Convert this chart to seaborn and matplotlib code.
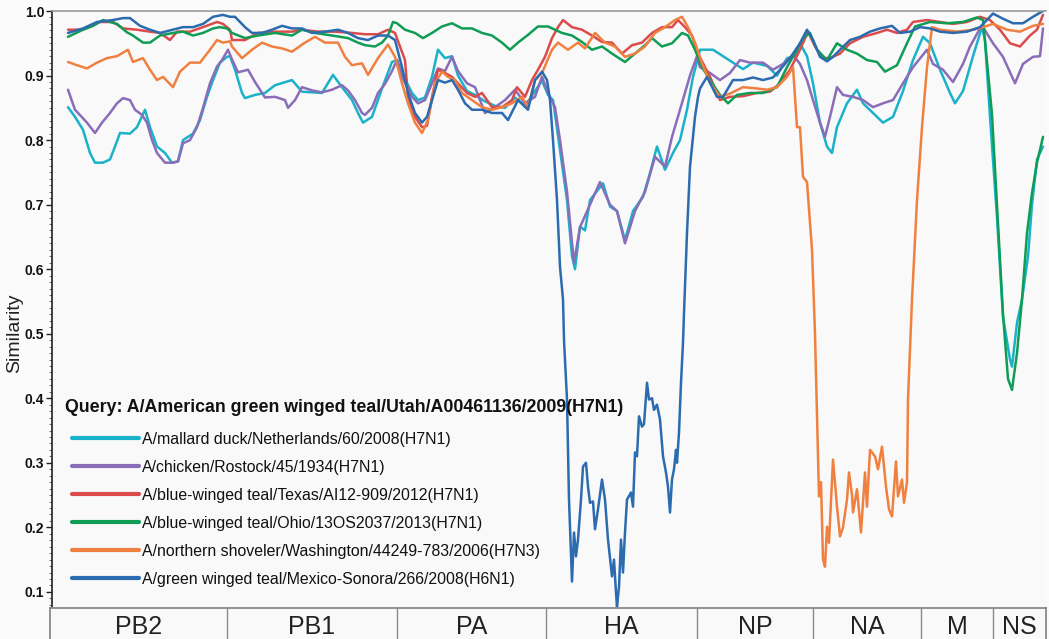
import matplotlib
matplotlib.use("Agg")
import matplotlib.pyplot as plt
import numpy as np
import pandas as pd
import seaborn as sns

# ---------------------------------------------------------------------------
# Similarity of each reference strain to the query, along the concatenated
# genome (alignment position, segments joined end to end).
# ---------------------------------------------------------------------------
segments = ["PB2", "PB1", "PA", "HA", "NP", "NA", "M", "NS"]
segment_bounds = [0, 1770, 3470, 4960, 6470, 7630, 8710, 9430, 9960]

query_label = "Query: A/American green winged teal/Utah/A00461136/2009(H7N1)"

strains = [
    "A/mallard duck/Netherlands/60/2008(H7N1)",
    "A/chicken/Rostock/45/1934(H7N1)",
    "A/blue-winged teal/Texas/AI12-909/2012(H7N1)",
    "A/blue-winged teal/Ohio/13OS2037/2013(H7N1)",
    "A/northern shoveler/Washington/44249-783/2006(H7N3)",
    "A/green winged teal/Mexico-Sonora/266/2008(H6N1)",
]
colors = ["#19b2c9", "#8a6db8", "#dc4b4b", "#0f9d55", "#f08040", "#2c6bb0"]

mallard_pos = [180, 250, 330, 400, 450, 530, 600, 650, 700, 800, 870, 950, 1000, 1070, 1150,
               1220, 1280, 1330, 1430, 1500, 1570, 1630, 1700, 1770, 1800, 1850, 1920, 1950,
               2050, 2150, 2250, 2420, 2520, 2620, 2720, 2830, 2920, 3020, 3080, 3130, 3220,
               3320, 3420, 3470, 3520, 3620, 3680, 3750, 3820, 3880, 3950, 4020, 4080, 4170,
               4250, 4350, 4450, 4550, 4650, 4750, 4850, 4920, 4980, 5030, 5100, 5170, 5220,
               5250, 5300, 5350, 5400, 5530, 5600, 5670, 5750, 5830, 5930, 6000, 6070, 6150,
               6230, 6300, 6370, 6430, 6480, 6500, 6570, 6630, 6730, 6830, 6930, 7030, 7170,
               7270, 7370, 7450, 7500, 7570, 7630, 7700, 7770, 7820, 7870, 7970, 8070, 8130,
               8230, 8330, 8430, 8530, 8630, 8730, 8800, 8900, 9000, 9050, 9130, 9230, 9320,
               9350, 9400, 9470, 9530, 9600, 9620, 9670, 9720, 9780, 9820, 9870, 9930]
mallard_sim = [.851, .836, .816, .780, .765, .765, .770, .790, .811, .810, .820, .847, .820, .790,
               .780, .765, .767, .800, .810, .831, .867, .893, .920, .929, .930, .909, .873, .865,
               .870, .873, .885, .893, .875, .874, .873, .901, .882, .862, .842, .827, .836, .880,
               .921, .924, .904, .873, .862, .866, .898, .940, .927, .930, .900, .876, .870, .860,
               .853, .850, .866, .853, .876, .892, .870, .862, .785, .707, .620, .600, .666, .660,
               .707, .733, .697, .690, .645, .690, .712, .749, .790, .754, .780, .800, .847, .898,
               .927, .940, .940, .940, .930, .920, .910, .920, .915, .900, .927, .930, .950, .930,
               .888, .827, .790, .780, .820, .857, .878, .857, .842, .827, .836, .876, .924, .960,
               .950, .909, .873, .857, .876, .930, .975, .955, .836, .680, .526, .460, .449, .517,
               .553, .620, .700, .770, .790]

chicken_pos = [180, 250, 370, 450, 520, 600, 670, 730, 800, 850, 920, 970, 1020, 1070, 1150,
               1230, 1280, 1330, 1400, 1470, 1530, 1600, 1670, 1720, 1780, 1820, 1880, 1980,
               2050, 2150, 2250, 2350, 2380, 2450, 2520, 2620, 2720, 2820, 2920, 2980, 3050,
               3120, 3150, 3220, 3280, 3350, 3420, 3470, 3520, 3620, 3680, 3750, 3820, 3880,
               3950, 4020, 4080, 4170, 4250, 4350, 4450, 4550, 4650, 4750, 4850, 4920, 4980,
               5050, 5100, 5170, 5240, 5300, 5400, 5500, 5600, 5670, 5750, 5850, 5950, 6050,
               6150, 6220, 6300, 6400, 6470, 6500, 6600, 6700, 6800, 6900, 7000, 7130, 7230,
               7330, 7430, 7500, 7570, 7630, 7700, 7750, 7800, 7870, 7930, 8030, 8130, 8230,
               8330, 8430, 8530, 8630, 8770, 8830, 8930, 9030, 9130, 9200, 9300, 9330, 9430,
               9530, 9650, 9730, 9830, 9900, 9930]
chicken_sim = [.878, .847, .827, .811, .827, .842, .857, .865, .862, .847, .839, .827, .800, .780,
               .765, .765, .767, .795, .800, .820, .850, .888, .914, .924, .940, .925, .905, .909,
               .890, .866, .867, .862, .850, .862, .882, .877, .874, .878, .885, .877, .862, .842,
               .839, .850, .873, .887, .907, .924, .898, .867, .857, .862, .888, .911, .907, .929,
               .907, .888, .882, .842, .851, .862, .878, .857, .867, .898, .873, .851, .800, .720,
               .610, .665, .700, .735, .700, .690, .640, .690, .720, .774, .759, .805, .847, .900,
               .930, .913, .904, .893, .904, .924, .920, .920, .909, .918, .932, .918, .893, .862,
               .827, .805, .836, .882, .870, .867, .862, .851, .857, .862, .888, .913, .940, .918,
               .909, .890, .918, .945, .973, .975, .950, .929, .888, .918, .929, .930, .973]

texas_pos = [180, 330, 500, 630, 730, 870, 1000, 1100, 1200, 1270, 1400, 1530, 1670, 1730, 1800,
             1820, 1950, 2080, 2250, 2420, 2520, 2680, 2850, 3020, 3150, 3280, 3380, 3450, 3550,
             3580, 3650, 3720, 3770, 3820, 3880, 3950, 4020, 4080, 4170, 4250, 4320, 4420, 4520,
             4620, 4670, 4750, 4820, 4880, 4950, 5020, 5080, 5130, 5220, 5320, 5420, 5520, 5620,
             5720, 5820, 5920, 6020, 6120, 6220, 6280, 6350, 6420, 6480, 6550, 6600, 6700, 6800,
             6930, 7070, 7200, 7300, 7400, 7500, 7580, 7650, 7730, 7800, 7900, 8000, 8130, 8270,
             8370, 8470, 8570, 8630, 8770, 8900, 9030, 9170, 9300, 9400, 9500, 9600, 9700, 9800,
             9870, 9930]
texas_sim = [.971, .971, .983, .983, .973, .971, .968, .966, .955, .968, .968, .975, .983, .980,
             .971, .955, .955, .966, .968, .968, .971, .968, .968, .966, .964, .964, .971, .966,
             .924, .867, .836, .820, .822, .867, .909, .904, .898, .888, .873, .867, .873, .851,
             .851, .862, .882, .867, .893, .909, .929, .958, .975, .986, .975, .971, .962, .952,
             .951, .934, .947, .951, .966, .975, .975, .986, .975, .962, .934, .913, .898, .862,
             .867, .868, .873, .875, .888, .909, .940, .968, .945, .927, .927, .934, .950, .960,
             .966, .971, .966, .971, .983, .986, .983, .980, .983, .991, .986, .971, .950, .945,
             .962, .971, .994]

ohio_pos = [180, 330, 430, 530, 670, 770, 830, 930, 1000, 1100, 1230, 1330, 1430, 1530, 1630,
            1700, 1770, 1820, 1950, 2080, 2250, 2420, 2520, 2650, 2820, 2980, 3080, 3150, 3250,
            3320, 3380, 3430, 3470, 3550, 3650, 3730, 3820, 3920, 4020, 4120, 4220, 4320, 4420,
            4520, 4600, 4680, 4780, 4880, 4980, 5050, 5120, 5220, 5320, 5420, 5520, 5620, 5750,
            5850, 5950, 6020, 6120, 6220, 6320, 6380, 6450, 6520, 6600, 6700, 6780, 6870, 7000,
            7130, 7270, 7370, 7470, 7530, 7600, 7670, 7770, 7870, 7970, 8070, 8170, 8270, 8350,
            8470, 8570, 8650, 8800, 8970, 9130, 9270, 9330, 9420, 9530, 9580, 9620, 9670, 9720,
            9770, 9820, 9870, 9930]
ohio_sim = [.960, .971, .977, .986, .980, .967, .962, .951, .951, .962, .966, .968, .962, .966,
            .973, .975, .973, .966, .958, .962, .966, .962, .971, .966, .962, .958, .951, .947,
            .945, .951, .962, .983, .981, .971, .966, .958, .966, .976, .981, .973, .973, .966,
            .962, .951, .940, .951, .963, .976, .976, .971, .966, .962, .952, .940, .945, .934,
            .921, .934, .947, .958, .945, .950, .966, .962, .940, .913, .893, .870, .857, .870,
            .873, .873, .882, .913, .940, .958, .966, .940, .924, .950, .940, .934, .924, .921,
            .906, .916, .950, .976, .983, .981, .983, .990, .986, .840, .530, .430, .413, .470,
            .553, .656, .718, .765, .805]

shoveler_pos = [180, 270, 370, 470, 570, 670, 780, 830, 930, 1000, 1070, 1130, 1230, 1300, 1400,
                1500, 1600, 1670, 1730, 1800, 1820, 1920, 2020, 2120, 2220, 2320, 2420, 2550,
                2650, 2750, 2880, 2950, 3020, 3120, 3180, 3280, 3380, 3450, 3520, 3580, 3650,
                3720, 3780, 3850, 3920, 3980, 4050, 4120, 4220, 4320, 4420, 4520, 4620, 4720,
                4780, 4850, 4920, 5020, 5080, 5180, 5280, 5350, 5450, 5550, 5650, 5750, 5850,
                5950, 6050, 6150, 6250, 6320, 6380, 6450, 6520, 6600, 6700, 6800, 6930, 7070,
                7170, 7270, 7370, 7430, 7470, 7500, 7530, 7570, 7620, 7650, 7670, 7690, 7710,
                7730, 7750, 7770, 7790, 7830, 7870, 7900, 7930, 7970, 7990, 8020, 8030, 8070,
                8110, 8150, 8170, 8200, 8250, 8280, 8320, 8360, 8390, 8420, 8460, 8480, 8520,
                8540, 8570, 8580, 8620, 8670, 8720, 8770, 8820, 8900, 9070, 9230, 9330, 9430,
                9570, 9700, 9830, 9930]
shoveler_sim = [.921, .916, .911, .920, .927, .930, .940, .921, .927, .909, .893, .898, .882, .906,
                .920, .920, .940, .955, .951, .953, .945, .927, .940, .951, .945, .942, .937, .951,
                .960, .951, .951, .929, .916, .919, .901, .927, .948, .929, .888, .857, .827, .811,
                .831, .888, .906, .898, .893, .873, .862, .851, .847, .851, .857, .867, .851, .893,
                .904, .940, .951, .940, .951, .942, .966, .951, .945, .929, .934, .945, .966, .975,
                .986, .991, .975, .951, .919, .889, .867, .872, .882, .880, .878, .882, .898, .913,
                .820, .820, .743, .735, .630, .500, .372, .248, .270, .150, .139, .201, .176, .305,
                .232, .186, .200, .243, .285, .250, .223, .259, .192, .285, .232, .320, .310, .290,
                .325, .263, .228, .217, .302, .248, .274, .238, .270, .398, .553, .707, .820, .913,
                .975, .971, .968, .971, .975, .980, .971, .968, .977, .980]

sonora_pos = [180, 330, 470, 630, 730, 800, 900, 1000, 1100, 1230, 1330, 1430, 1530, 1630, 1730,
              1800, 1850, 1950, 2020, 2120, 2220, 2320, 2420, 2520, 2620, 2750, 2880, 2980, 3080,
              3180, 3280, 3380, 3450, 3520, 3580, 3650, 3720, 3770, 3820, 3880, 3950, 4020, 4080,
              4150, 4220, 4320, 4420, 4520, 4580, 4680, 4780, 4850, 4920, 4970, 5000, 5030, 5070,
              5100, 5130, 5140, 5170, 5190, 5220, 5240, 5260, 5280, 5310, 5330, 5360, 5380, 5400,
              5430, 5450, 5480, 5520, 5550, 5580, 5620, 5640, 5660, 5670, 5690, 5710, 5730, 5750,
              5770, 5810, 5830, 5850, 5870, 5890, 5920, 5940, 5970, 5990, 6020, 6040, 6070, 6100,
              6130, 6160, 6180, 6200, 6220, 6240, 6260, 6270, 6290, 6310, 6330, 6340, 6370, 6400,
              6450, 6480, 6500, 6570, 6670, 6730, 6830, 6930, 7030, 7130, 7230, 7300, 7400, 7500,
              7570, 7630, 7700, 7770, 7830, 7900, 8000, 8100, 8200, 8300, 8420, 8500, 8600, 8700,
              8800, 8900, 9030, 9170, 9300, 9430, 9530, 9630, 9730, 9830, 9930]
sonora_sim = [.966, .973, .983, .986, .989, .989, .977, .971, .966, .971, .975, .975, .980, .991,
              .994, .991, .991, .975, .966, .966, .971, .977, .973, .973, .966, .968, .971, .966,
              .958, .955, .962, .962, .955, .913, .873, .842, .827, .836, .862, .893, .889, .893,
              .878, .857, .847, .847, .842, .842, .831, .862, .847, .893, .906, .893, .862, .800,
              .707, .604, .553, .490, .398, .243, .116, .192, .155, .181, .243, .294, .300, .263,
              .238, .240, .197, .228, .274, .243, .181, .124, .150, .099, .077, .108, .181, .130,
              .192, .243, .254, .232, .316, .310, .372, .356, .360, .424, .398, .400, .382, .390,
              .367, .310, .285, .263, .223, .274, .290, .320, .300, .347, .424, .486, .532, .656,
              .759, .836, .867, .880, .898, .867, .867, .893, .893, .897, .893, .897, .909, .927,
              .950, .971, .955, .929, .922, .929, .940, .955, .960, .968, .973, .977, .966, .968,
              .975, .973, .968, .966, .968, .975, .996, .988, .981, .981, .991, 1.000]

series_pos = [mallard_pos, chicken_pos, texas_pos, ohio_pos, shoveler_pos, sonora_pos]
series_sim = [mallard_sim, chicken_sim, texas_sim, ohio_sim, shoveler_sim, sonora_sim]

frames = []
for name, pos, sim in zip(strains, series_pos, series_sim):
    frames.append(pd.DataFrame({"position": pos, "similarity": sim, "strain": name}))
data = pd.concat(frames, ignore_index=True)

# ---------------------------------------------------------------------------
sns.set_theme(style="white")
plt.rcParams["font.family"] = ["Liberation Sans", "DejaVu Sans"]

W, H = 1049, 639
fig = plt.figure(figsize=(W / 100, H / 100), dpi=100, facecolor="#fbfbfb")

ax = fig.add_axes([52 / W, 31 / H, 994 / W, 597 / H])
ax.set_facecolor("#f9f9f9")

sns.lineplot(data=data, x="position", y="similarity", hue="strain",
             hue_order=strains, palette=colors, estimator=None, sort=True,
             linewidth=1.8, legend=False, ax=ax)

ax.set_xlim(20, segment_bounds[-1])
ax.set_ylim(0.075, 1.0)
ax.set_xticks([])
ax.set_xlabel("")
ax.set_ylabel("")

ax.set_yticks(np.round(np.arange(0.1, 1.01, 0.1), 1))
ax.set_yticks(np.arange(0.08, 1.0, 0.01), minor=True)
ax.set_yticklabels([f"{v:.1f}" for v in np.arange(0.1, 1.01, 0.1)],
                   fontsize=10, fontweight="bold", color="#111111")
ax.tick_params(axis="y", which="major", direction="out", length=4, width=1,
               color="#222222", pad=1.5, left=True)
ax.tick_params(axis="y", which="minor", direction="out", length=2, width=0.6,
               color="#555555", left=True)

for side in ["right", "bottom"]:
    ax.spines[side].set_visible(False)
ax.spines["left"].set_color("#222222")
ax.spines["left"].set_linewidth(1.2)
ax.spines["top"].set_color("#9a9a9a")
ax.spines["top"].set_linewidth(1.2)

fig.text(15 / W, 1 - 333 / H, "Similarity", rotation=90, ha="center", va="center",
         fontsize=14, color="#222222")

# Query title and the strain legend beneath it
fig.text(65 / W, 1 - 407 / H, query_label, ha="left", va="center",
         fontsize=12.8, fontweight="bold", color="#111111")

handles = [plt.Line2D([], [], color=c, linewidth=3) for c in colors]
leg = ax.legend(handles, strains, loc="upper left",
                bbox_to_anchor=(72 / W, 1 - 432 / H), bbox_transform=fig.transFigure,
                frameon=False, fontsize=11.4, handlelength=4.2, handletextpad=0.25,
                labelspacing=0.82, borderpad=0, borderaxespad=0)
for t in leg.get_texts():
    t.set_color("#111111")

# Segment bar along the bottom
seg = fig.add_axes([50 / W, 0, 996 / W, 31 / H])
seg.set_facecolor("#f9f9f9")
seg.set_xlim(segment_bounds[0], segment_bounds[-1])
seg.set_ylim(0, 1)
seg.set_xticks([])
seg.set_yticks([])
for side in ["left", "right", "top"]:
    seg.spines[side].set_color("#8a8a8a")
    seg.spines[side].set_linewidth(1.3)
seg.spines["bottom"].set_visible(False)
for b in segment_bounds[1:-1]:
    seg.axvline(b, color="#8a8a8a", linewidth=1.0)
for name, a, b in zip(segments, segment_bounds[:-1], segment_bounds[1:]):
    seg.text((a + b) / 2, 0.4, name, ha="center", va="center", fontsize=18,
             color="#222222")

fig.savefig("out.png", dpi=100, facecolor=fig.get_facecolor())
